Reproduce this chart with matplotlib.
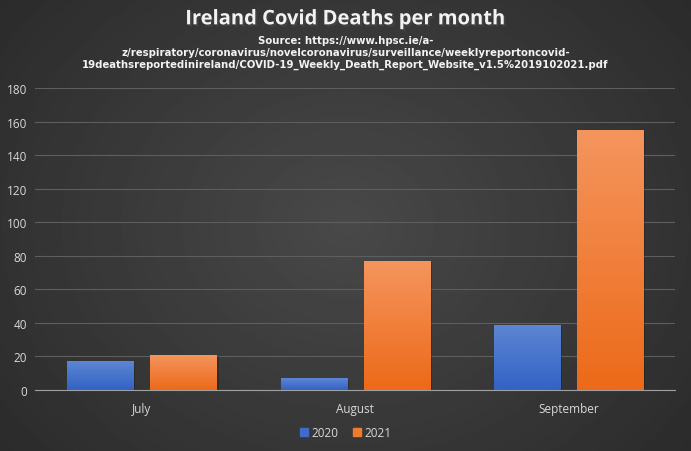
import numpy as np
from matplotlib import pyplot as plt
import matplotlib.patheffects as pe
from matplotlib.patches import Patch

months = ['July', 'August', 'September']
deaths_2020 = [17, 7, 39]
deaths_2021 = [21, 77, 155]
yticks = list(range(0, 181, 20))

title = "Ireland Covid Deaths per month"
source = ("Source: https://www.hpsc.ie/a-\n"
          "z/respiratory/coronavirus/novelcoronavirus/surveillance/weeklyreportoncovid-\n"
          "19deathsreportedinireland/COVID-19_Weekly_Death_Report_Website_v1.5%2019102021.pdf")

plt.rcParams['font.family'] = ['Open Sans', 'DejaVu Sans']

fig = plt.figure(figsize=(6.91, 4.52), dpi=100)

# radial dark background
bg = fig.add_axes([0, 0, 1, 1], zorder=-10)
yy, xx = np.mgrid[-1:1:300j, -1:1:460j]
r = np.sqrt(xx ** 2 + (yy * 0.8) ** 2)
shade = np.clip(0.285 - 0.09 * r, 0, 1)
bg.imshow(shade, cmap='gray', vmin=0, vmax=1, aspect='auto', extent=[0, 1, 0, 1])
bg.set_axis_off()

ax = fig.add_axes([0.051, 0.135, 0.926, 0.668])
ax.patch.set_alpha(0)

x = np.arange(len(months))
w = 0.31
off = 0.195


def gradient_bars(xs, vals, top, bottom, label):
    bars = ax.bar(xs, vals, w, color=bottom, label=label, zorder=3)
    grad = np.linspace(0, 1, 100).reshape(-1, 1)
    c1 = np.array(plt.matplotlib.colors.to_rgb(top))
    c2 = np.array(plt.matplotlib.colors.to_rgb(bottom))
    for b in bars:
        img = c1 + (c2 - c1) * grad[:, :, None]
        img = np.repeat(img, 2, axis=1)
        x0, y0 = b.get_x(), b.get_y()
        im = ax.imshow(img, extent=[x0, x0 + b.get_width(), y0, y0 + b.get_height()],
                       aspect='auto', zorder=4, origin='upper')
        im.set_clip_path(b)
        b.set_path_effects([pe.SimplePatchShadow(offset=(1.5, -1), shadow_rgbFace='black', alpha=0.2),
                            pe.Normal()])
    return bars


gradient_bars(x - off, deaths_2020, '#5d86d3', '#3262c4', '2020')
gradient_bars(x + off, deaths_2021, '#f5955e', '#ec6a19', '2021')

ax.set_xlim(-0.5, len(months) - 0.5)
ax.set_ylim(0, 180)
ax.set_yticks(yticks)
ax.set_xticks(x)
ax.set_xticklabels(months)
ax.tick_params(colors='#d9d9d9', labelsize=8.5, length=0)
ax.tick_params(axis='x', pad=9)
ax.tick_params(axis='y', pad=6)
ax.grid(axis='y', color='#5e5e5e', lw=0.8, zorder=0)
for s in ['top', 'right', 'left']:
    ax.spines[s].set_visible(False)
ax.spines['bottom'].set_color('#a0a0a0')
ax.spines['bottom'].set_zorder(5)

handles = [Patch(color='#3d6cc9', label='2020'), Patch(color='#f07a2e', label='2021')]
fig.legend(handles=handles, loc='center', bbox_to_anchor=(0.5, 0.04), ncol=2, frameon=False,
           fontsize=8.5, labelcolor='#d9d9d9', handlelength=0.7, handleheight=0.7,
           handletextpad=0.3, columnspacing=1.2)

fig.text(0.5, 0.955, title, ha='center', va='center', color='#f2f2f2', fontsize=14.5,
         fontweight='bold', path_effects=[pe.withSimplePatchShadow(offset=(1.5, -1.5), alpha=0.6)])
fig.text(0.5, 0.883, source, ha='center', va='center', color='#f2f2f2', fontsize=7.3,
         fontweight='bold', linespacing=1.2, family='DejaVu Sans')

fig.savefig('out.png', dpi=100, facecolor='#333333')
